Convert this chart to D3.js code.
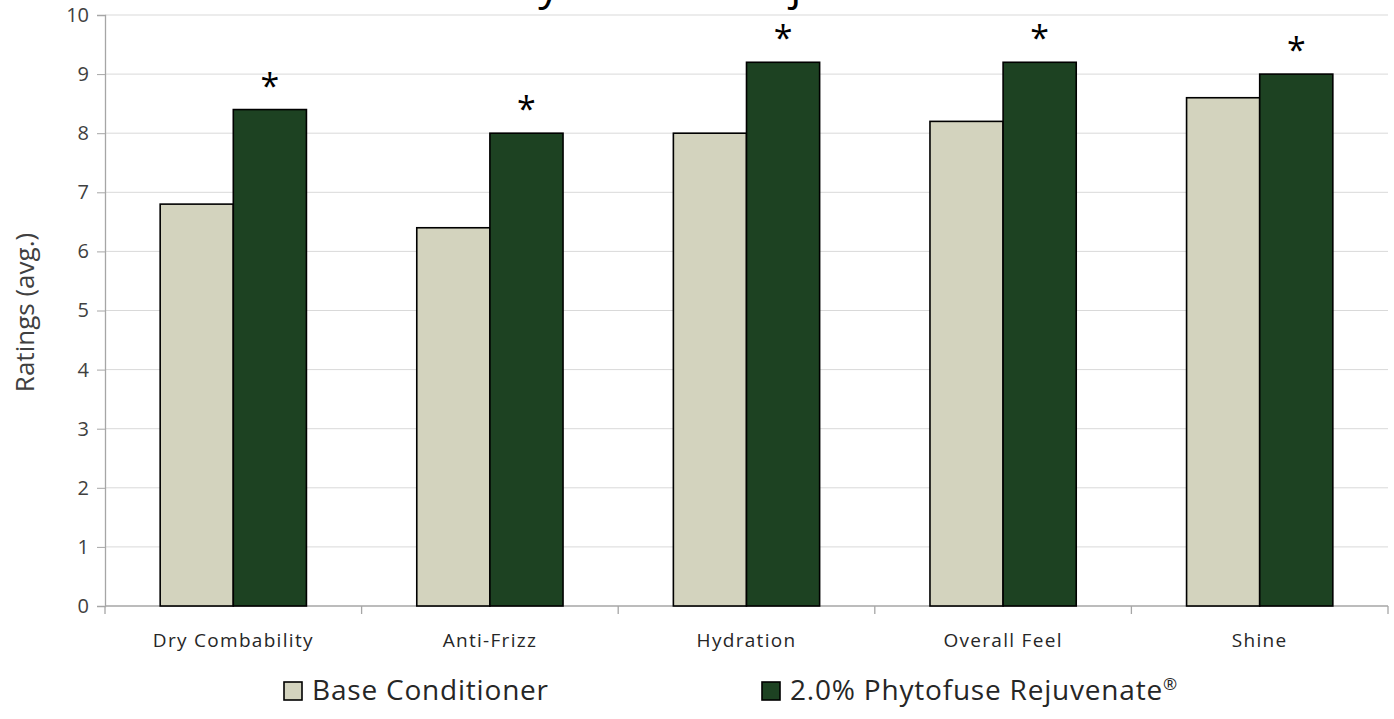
<!DOCTYPE html>
<html>
<head>
<meta charset="utf-8">
<script src="https://d3js.org/d3.v7.min.js"></script>
<style>
  body { margin: 0; background: #fff; }
  text { font-family: "Open Sans", sans-serif; }
</style>
</head>
<body>
<div id="chart"></div>
<script>
// chart data
var categories = ["Dry Combability", "Anti-Frizz", "Hydration", "Overall Feel", "Shine"];
var baseValues = [6.8, 6.4, 8.0, 8.2, 8.6];
var phytoValues = [8.4, 8.0, 9.2, 9.2, 9.0];
var seriesNames = ["Base Conditioner", "2.0% Phytofuse Rejuvenate"];
var yTicks = [0, 1, 2, 3, 4, 5, 6, 7, 8, 9, 10];

var svgWidth = 1394, svgHeight = 719;
var margin = { top: 15, right: 6, bottom: 113, left: 105 };
var width = svgWidth - margin.left - margin.right;
var height = svgHeight - margin.top - margin.bottom;

var svg = d3.select("#chart").append("svg")
    .attr("width", svgWidth)
    .attr("height", svgHeight);

// title, mostly cut off at the top like the reference
svg.append("text")
    .attr("x", 737)
    .attr("y", -1)
    .attr("text-anchor", "middle")
    .attr("font-size", "44px")
    .attr("letter-spacing", "3.7px")
    .attr("fill", "#000")
    .text("Phytofuse Rejuvenate");

var g = svg.append("g")
    .attr("transform", `translate(${margin.left}, ${margin.top})`);

var x0 = d3.scaleBand().domain(categories).range([0, width]).padding(0);
var barW = x0.bandwidth() * 0.285;
var yScale = d3.scaleLinear().domain([0, 10]).range([height, 0]);

// gridlines
g.selectAll(".grid")
    .data(yTicks.slice(1))
    .enter().append("line")
    .attr("x1", 0).attr("x2", width)
    .attr("y1", d => yScale(d)).attr("y2", d => yScale(d))
    .attr("stroke", "#d9d9d9").attr("stroke-width", 1);

// y axis
var yAxis = g.append("g")
    .call(d3.axisLeft(yScale).tickValues(yTicks).tickSize(8).tickPadding(8));
yAxis.select(".domain").attr("stroke", "#a6a6a6").attr("stroke-width", 1.3);
yAxis.selectAll(".tick line").attr("stroke", "#a6a6a6");
yAxis.selectAll(".tick text").attr("font-size", "20px").attr("fill", "#404040")
    .attr("font-family", "'Open Sans', sans-serif");

// x axis line + boundary ticks
g.append("line")
    .attr("x1", 0).attr("x2", width)
    .attr("y1", height).attr("y2", height)
    .attr("stroke", "#a6a6a6").attr("stroke-width", 1.3);
var bounds = categories.map(c => x0(c)).concat([width]);
g.selectAll(".xtick")
    .data(bounds)
    .enter().append("line")
    .attr("x1", d => d).attr("x2", d => d)
    .attr("y1", height).attr("y2", height + 8)
    .attr("stroke", "#a6a6a6").attr("stroke-width", 1.3);
g.selectAll(".xlabel")
    .data(categories)
    .enter().append("text")
    .attr("x", d => x0(d) + x0.bandwidth() / 2)
    .attr("y", height + 41)
    .attr("text-anchor", "middle")
    .attr("font-size", "19px")
    .attr("letter-spacing", "1.3px")
    .attr("fill", "#262626")
    .text(d => d);

// bars
var data = categories.map((c, i) => ({ cat: c, base: baseValues[i], phyto: phytoValues[i] }));
var groups = g.selectAll(".grp").data(data).enter().append("g")
    .attr("transform", d => `translate(${x0(d.cat) + x0.bandwidth() / 2}, 0)`);

groups.append("rect")
    .attr("x", -barW).attr("width", barW)
    .attr("y", d => yScale(d.base))
    .attr("height", d => height - yScale(d.base))
    .attr("fill", "#d3d3be").attr("stroke", "#000").attr("stroke-width", 1.6);

groups.append("rect")
    .attr("x", 0).attr("width", barW)
    .attr("y", d => yScale(d.phyto))
    .attr("height", d => height - yScale(d.phyto))
    .attr("fill", "#1d4222").attr("stroke", "#000").attr("stroke-width", 1.6);

// significance marks
groups.append("text")
    .attr("x", barW / 2)
    .attr("y", d => yScale(d.phyto) - 12)
    .attr("text-anchor", "middle")
    .attr("font-size", "34px")
    .attr("fill", "#000")
    .text("*");

// y axis title
svg.append("text")
    .attr("transform", `translate(34, ${margin.top + height / 2 + 2}) rotate(-90)`)
    .attr("text-anchor", "middle")
    .attr("font-size", "26px")
    .attr("fill", "#404040")
    .text("Ratings (avg.)");

// legend
var legendX = [284, 762];
var legendColors = ["#d3d3be", "#1d4222"];
var legend = svg.selectAll(".legend").data(seriesNames).enter().append("g")
    .attr("transform", (d, i) => `translate(${legendX[i]}, 680)`);
legend.append("rect")
    .attr("width", 18).attr("height", 18).attr("y", 2)
    .attr("fill", (d, i) => legendColors[i])
    .attr("stroke", "#000").attr("stroke-width", 1.6);
var legendText = legend.append("text")
    .attr("x", 28).attr("y", 20)
    .attr("font-size", "28px")
    .attr("letter-spacing", "0.8px")
    .attr("fill", "#262626")
    .text(d => d);
legendText.filter((d, i) => i === 1)
    .append("tspan")
    .attr("dy", -10)
    .attr("font-size", "17px")
    .text("\u00AE");
</script>
</body>
</html>
